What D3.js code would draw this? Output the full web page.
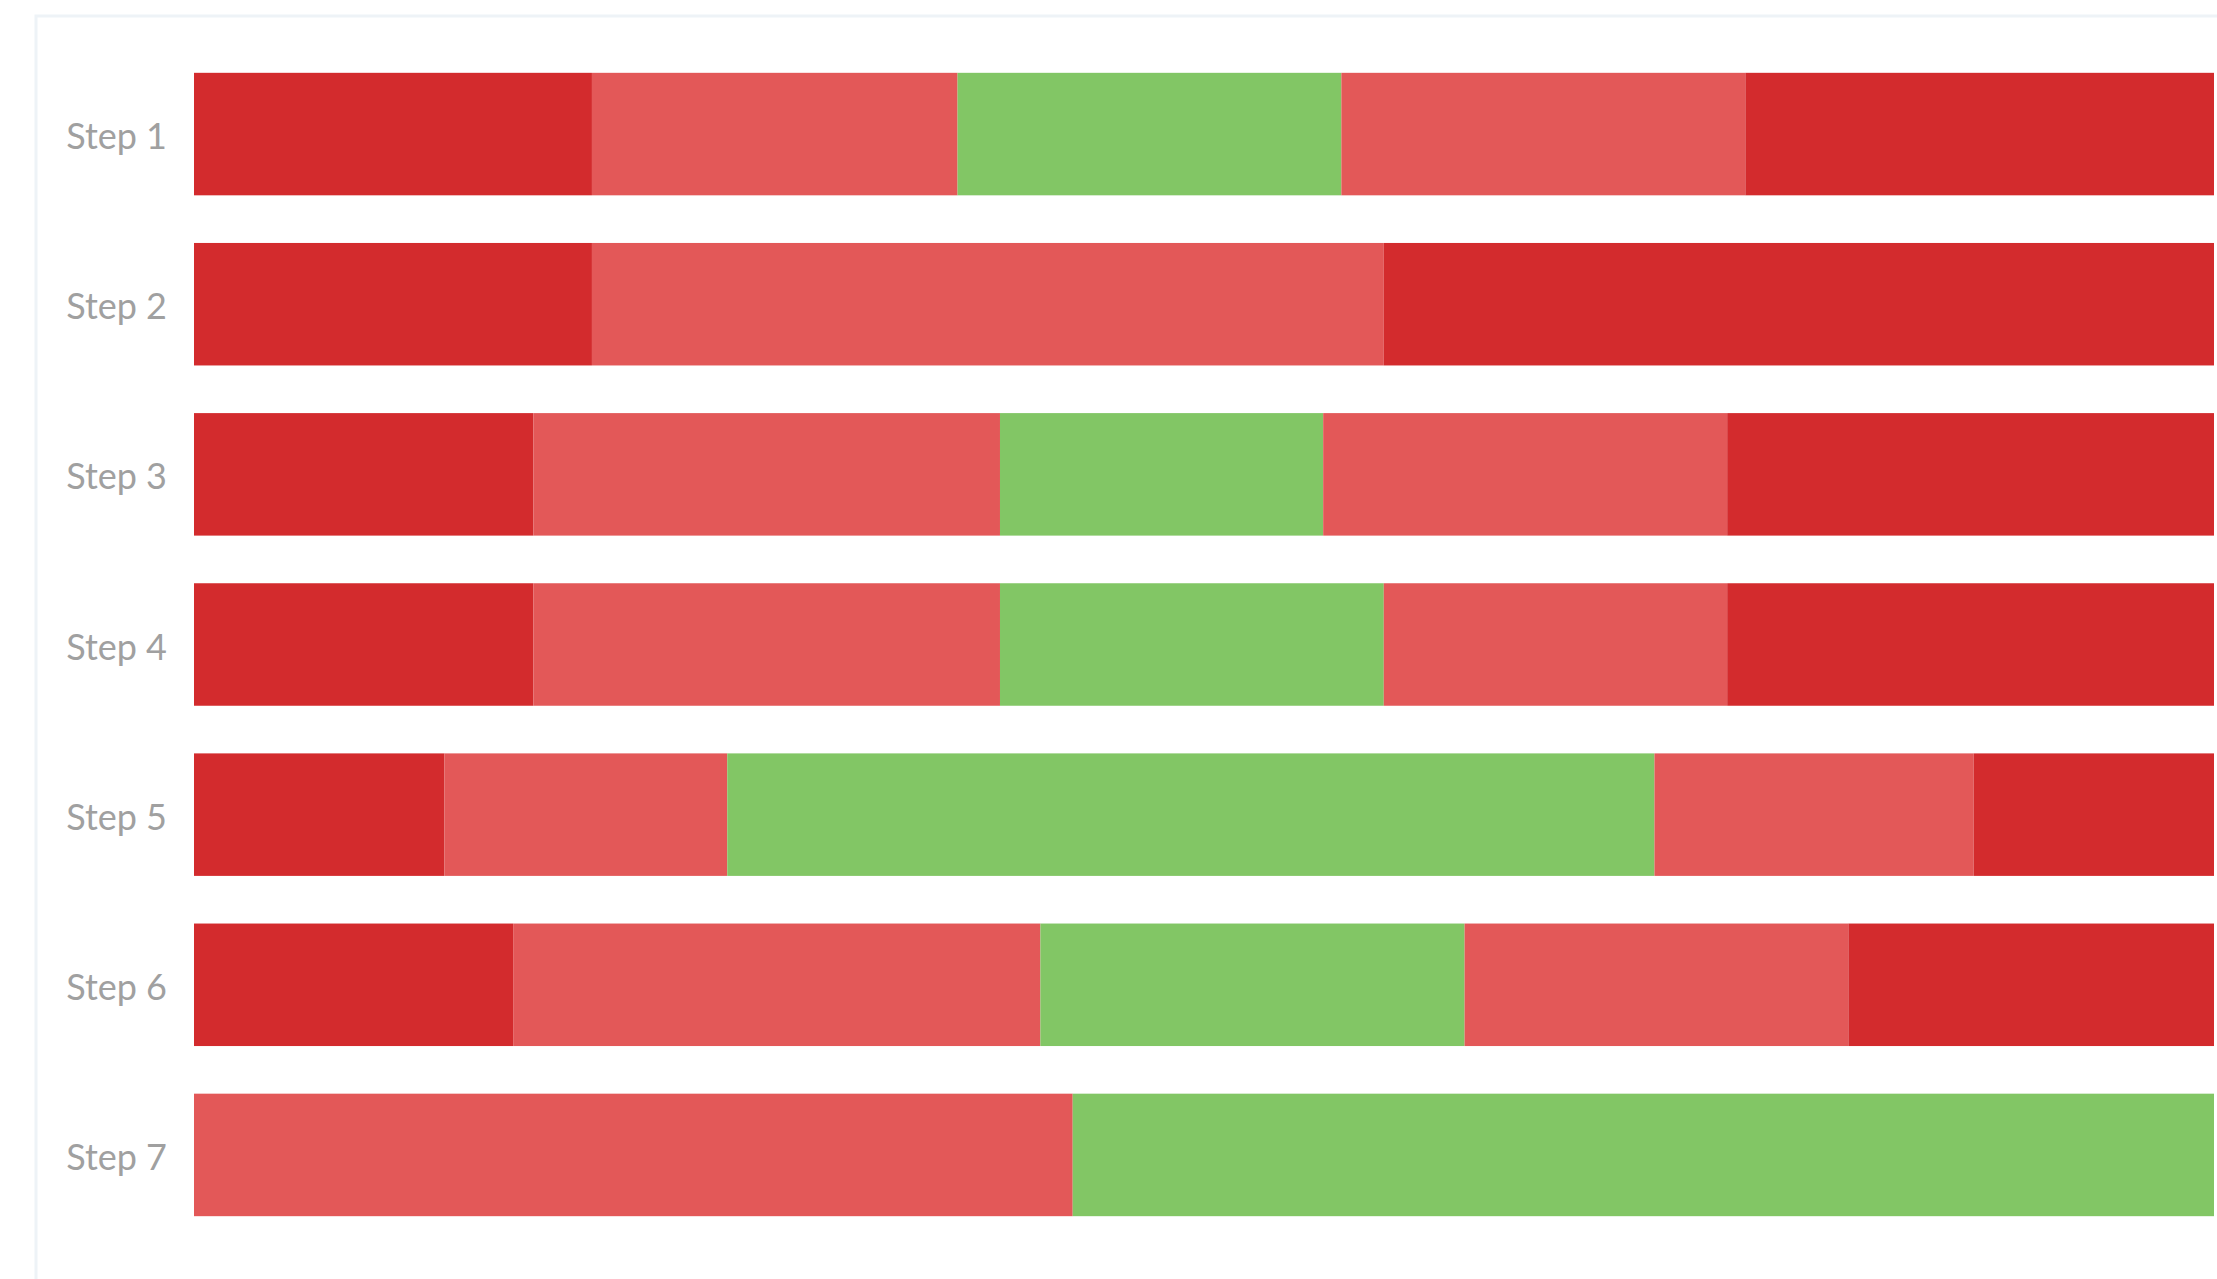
<!DOCTYPE html>
<html>
<head>
<meta charset="utf-8">
<script src="https://cdn.jsdelivr.net/npm/d3@7"></script>
<style>
  html, body { margin: 0; padding: 0; background: #fff; overflow: hidden; }
  #wrapper { width: 2217px; height: 1279px; }
</style>
</head>
<body>
<div id="wrapper"></div>
<script>
// rows
const steps = ["Step 1", "Step 2", "Step 3", "Step 4", "Step 5", "Step 6", "Step 7"];

// segment shares (%) per row, left to right
const veryLow  = [19.7, 19.7, 16.8, 16.8, 12.4, 15.8, 0];
const low      = [18.1, 39.2, 23.1, 23.1, 14.0, 26.1, 43.5];
const good     = [19.0, 0,    16.0, 19.0, 45.9, 21.0, 56.5];
const high     = [20.0, 0,    20.0, 17.0, 15.8, 19.0, 0];
const veryHigh = [23.2, 41.1, 24.1, 24.1, 11.9, 18.1, 0];

const seriesKeys = ["veryLow", "low", "good", "high", "veryHigh"];
const seriesColors = ["#d32b2d", "#e35858", "#82c665", "#e35858", "#d32b2d"];

function buildChart() {
    const dimension = {
        width: 2217,
        height: 1279,
        margin: { top: 49, left: 194, bottom: 39, right: 3 }
    };
    dimension.boundedWidth = dimension.width - dimension.margin.left - dimension.margin.right;
    dimension.boundedHeight = dimension.height - dimension.margin.top - dimension.margin.bottom;

    const rows = steps.map((s, i) => ({
        step: s,
        veryLow: veryLow[i],
        low: low[i],
        good: good[i],
        high: high[i],
        veryHigh: veryHigh[i]
    }));

    const svg = d3.select("#wrapper").append("svg")
        .attr("width", dimension.width)
        .attr("height", dimension.height);

    // faint card outline
    svg.append("rect")
        .attr("x", 36)
        .attr("y", 16)
        .attr("width", dimension.width)
        .attr("height", dimension.height)
        .attr("fill", "none")
        .attr("stroke", "#eef3f7")
        .attr("stroke-width", 3);

    const bounded = svg.append("g")
        .attr("transform", `translate(${dimension.margin.left},${dimension.margin.top})`);

    const xScaler = d3.scaleLinear()
        .domain([0, 100])
        .range([0, dimension.boundedWidth]);

    const yScaler = d3.scaleBand()
        .domain(steps)
        .range([0, dimension.boundedHeight])
        .paddingInner(0.28)
        .paddingOuter(0.14);

    const color = d3.scaleOrdinal().domain(seriesKeys).range(seriesColors);

    const stacked = d3.stack().keys(seriesKeys)(rows);

    bounded.selectAll("g.layer")
        .data(stacked)
        .join("g")
        .attr("class", "layer")
        .attr("fill", d => color(d.key))
        .selectAll("rect")
        .data(d => d.filter(p => p[1] - p[0] > 0))
        .join("rect")
        .attr("x", d => xScaler(d[0]))
        .attr("y", d => yScaler(d.data.step))
        .attr("width", d => xScaler(d[1]) - xScaler(d[0]))
        .attr("height", yScaler.bandwidth());

    const yAxis = d3.axisLeft(yScaler).tickSize(0).tickPadding(27);
    const yAxisGroup = bounded.append("g").call(yAxis);
    yAxisGroup.select(".domain").remove();
    yAxisGroup.selectAll("text")
        .attr("fill", "#a0a0a0")
        .attr("dy", "0.42em")
        .style("font-family", "Lato, 'Open Sans', sans-serif")
        .style("font-size", "36px");
}

buildChart();
</script>
</body>
</html>
